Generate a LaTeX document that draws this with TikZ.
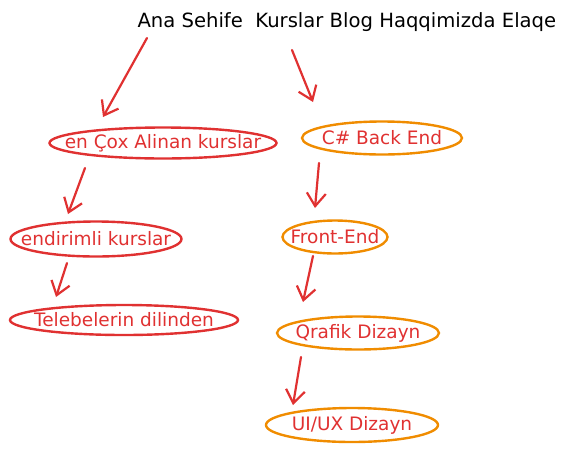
\documentclass[tikz,border=0pt]{standalone}
\usepackage{fontspec}
\setmainfont{DejaVu Sans}
\usetikzlibrary{arrows.meta,shapes.geometric}
\definecolor{exred}{HTML}{E03131}
\definecolor{exorange}{HTML}{F08C00}
\newcommand{\ovaltext}[1]{\makebox[0pt]{#1}}
\tikzset{
  ovalred/.style={ellipse, draw=exred, line width=2.4pt, inner sep=0pt, text=exred, font=\fontsize{18.5}{18.5}\selectfont},
  ovalorange/.style={ellipse, draw=exorange, line width=2.4pt, inner sep=0pt, text=exred, font=\fontsize{18.5}{18.5}\selectfont},
  link/.style={draw=exred, line width=2.2pt, line cap=round, -{Straight Barb[length=13pt,width=19pt,line width=2.2pt]}},
}
\begin{document}
\begin{tikzpicture}[x=1pt,y=-1pt]
\useasboundingbox (0,0) rectangle (568,456);
\node[anchor=west, font=\fontsize{19.6}{19.6}\selectfont] (menu) at (134,22) {Ana Sehife\ \ Kurslar Blog Haqqimizda Elaqe};

\node[ovalred, minimum width=227pt, minimum height=31pt] (cox) at (163,143) {\ovaltext{en Çox Alinan kurslar}};
\node[ovalorange, minimum width=160pt, minimum height=33pt] (csharp) at (382,138) {\ovaltext{C\# Back End}};
\node[ovalred, minimum width=171pt, minimum height=35pt] (endirim) at (96,239) {\ovaltext{endirimli kurslar}};
\node[ovalorange, minimum width=105pt, minimum height=33pt] (front) at (335,237) {\ovaltext{Front-End}};
\node[ovalred, minimum width=228pt, minimum height=30pt] (tele) at (124,320) {\ovaltext{Telebelerin dilinden}};
\node[ovalorange, minimum width=162pt, minimum height=33pt] (qrafik) at (358,333) {\ovaltext{Qrafik Dizayn}};
\node[ovalorange, minimum width=172pt, minimum height=34pt] (uiux) at (352,425) {\ovaltext{UI/UX Dizayn}};

\coordinate (a1s) at (147,38);  \coordinate (a1e) at (103,117);
\coordinate (a2s) at (292,50);  \coordinate (a2e) at (313,102);
\coordinate (a3s) at (85,168);  \coordinate (a3e) at (68,214);
\coordinate (a4s) at (319,163); \coordinate (a4e) at (315,208);
\coordinate (a5s) at (67,263);  \coordinate (a5e) at (56,297);
\coordinate (a6s) at (313,256); \coordinate (a6e) at (303,302);
\coordinate (a7s) at (301,357); \coordinate (a7e) at (293,405);

\draw[link] (a1s) -- (a1e);
\draw[link] (a2s) -- (a2e);
\draw[link] (a3s) -- (a3e);
\draw[link] (a4s) -- (a4e);
\draw[link] (a5s) -- (a5e);
\draw[link] (a6s) -- (a6e);
\draw[link] (a7s) -- (a7e);
\end{tikzpicture}
\end{document}
